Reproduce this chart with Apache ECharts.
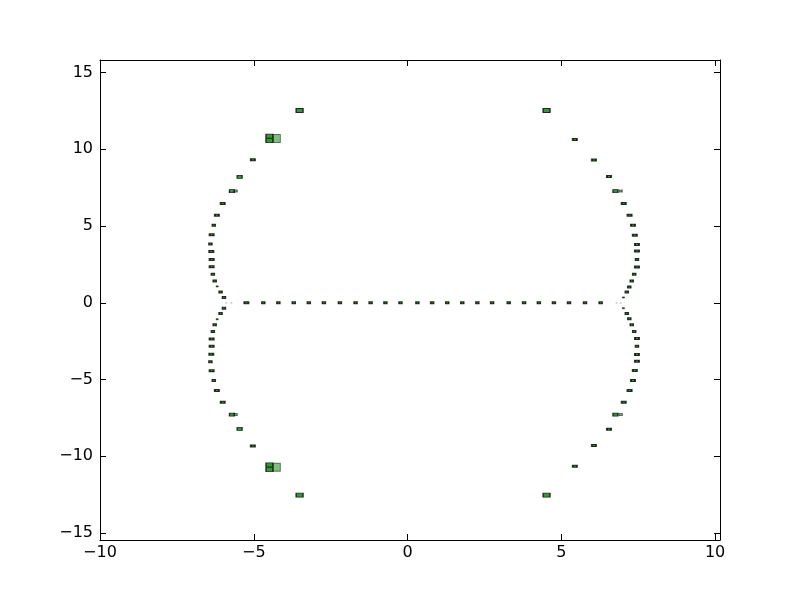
<!DOCTYPE html>
<html>
<head>
<meta charset="utf-8">
<script src="https://cdn.jsdelivr.net/npm/echarts@6/dist/echarts.min.js"></script>
<style>html,body{margin:0;padding:0;background:#fff;}#c{width:800px;height:600px;}</style>
</head>
<body>
<div id="c"></div>
<script>
// ---- data ----
const xTicks = [-10, -5, 0, 5, 10];
const yTicks = [-15, -10, -5, 0, 5, 10, 15];

// points on the real axis (y = 0)
const axisX = [-5.24,-4.69,-4.20,-3.70,-3.21,-2.72,-2.20,-1.69,-1.20,-0.72,-0.23,0.32,0.80,1.29,1.78,2.27,2.75,3.29,3.79,4.27,4.76,5.25,5.77,6.28];
const axisY = [0,0,0,0,0,0,0,0,0,0,0,0,0,0,0,0,0,0,0,0,0,0,0,0];
const axisW = [3,2,2,2,2,2,2,2,2,2,2,2,2,2,2,2,2,2,2,2,2,2,2,2];

// left branch, upper half
const leftUpX = [-3.51,-4.49,-4.49,-5.03,-5.46,-5.71,-6.01,-6.20,-6.30,-6.37,-6.41,-6.38,-6.37,-6.37,-6.33,-6.27,-6.19,-6.08,-5.97];
const leftUpY = [12.53,10.86,10.56,9.32,8.21,7.28,6.47,5.71,5.06,4.43,3.84,3.35,2.83,2.35,1.87,1.43,1.07,0.70,0.35];
const leftUpW = [5,5,5,3,4,4,3,3,2,3,2,3,3,3,2,2,1,2,2];
// left branch, lower half
const leftLoX = [-3.51,-4.49,-4.49,-5.03,-5.46,-5.71,-6.01,-6.20,-6.30,-6.37,-6.41,-6.38,-6.37,-6.37,-6.33,-6.27,-6.19,-6.08,-5.97];
const leftLoY = [-12.53,-10.86,-10.56,-9.32,-8.21,-7.28,-6.47,-5.71,-5.06,-4.43,-3.84,-3.35,-2.83,-2.35,-1.87,-1.43,-1.07,-0.70,-0.35];
const leftLoW = [5,5,5,3,4,4,3,3,2,3,2,3,3,3,2,2,1,2,2];

// right branch, upper half
const rightUpX = [4.52,5.44,6.06,6.55,6.76,7.03,7.22,7.33,7.39,7.46,7.46,7.46,7.46,7.37,7.29,7.21,7.13,7.02];
const rightUpY = [12.53,10.64,9.30,8.23,7.28,6.47,5.71,5.06,4.41,3.80,3.37,2.83,2.33,1.87,1.43,1.04,0.70,0.35];
const rightUpW = [5,3,3,3,4,3,3,3,3,3,3,2,3,2,2,2,2,1];
// right branch, lower half
const rightLoX = [4.52,5.44,6.06,6.55,6.76,7.03,7.22,7.33,7.39,7.46,7.46,7.46,7.46,7.37,7.29,7.21,7.13,7.02];
const rightLoY = [-12.53,-10.64,-9.30,-8.23,-7.28,-6.47,-5.71,-5.06,-4.41,-3.80,-3.37,-2.83,-2.33,-1.87,-1.43,-1.04,-0.70,-0.35];
const rightLoW = [5,3,3,3,4,3,3,3,3,3,3,2,3,2,2,2,2,1];

// lighter (semi-transparent) companion marks
const lightX = [-4.25,-4.25,-5.59,-5.59,6.93,6.93];
const lightY = [10.71,-10.71,7.28,-7.28,7.28,-7.28];
const lightW = [6,6,2,2,2,2];

// faint marks near the branch points
const faintX = [-5.89,-5.73,6.80,6.93];
const faintY = [0,0,0,0];

// ---- build ----
function zip3(xs, ys, ws) { return xs.map((x, i) => [x, ys[i], ws[i]]); }
const mainData = [].concat(
  zip3(axisX, axisY, axisW),
  zip3(leftUpX, leftUpY, leftUpW),
  zip3(leftLoX, leftLoY, leftLoW),
  zip3(rightUpX, rightUpY, rightUpW),
  zip3(rightLoX, rightLoY, rightLoW)
);
const lightData = zip3(lightX, lightY, lightW);
const faintData = faintX.map((x, i) => [x, faintY[i]]);

const sizeOf = {1: [2, 1], 2: [3, 2], 3: [4, 2], 4: [5, 3], 5: [7, 4], 6: [7, 8]};
const fmt = v => String(v).replace('-', '\u2212');
const font = {fontFamily: 'DejaVu Sans', fontSize: 16, color: '#000'};

function xAx(pos, labels) {
  return {
    type: 'value', position: pos, min: -10, max: 10.16,
    axisLine: {show: true, onZero: false, lineStyle: {color: '#000', width: 1}},
    axisTick: {show: true, inside: true, length: 6, lineStyle: {color: '#000'}, customValues: xTicks},
    axisLabel: Object.assign({show: labels, margin: 5, formatter: fmt, customValues: xTicks}, font),
    splitLine: {show: false}
  };
}
function yAx(pos, labels) {
  return {
    type: 'value', position: pos, min: -15.45, max: 15.82,
    axisLine: {show: true, onZero: false, lineStyle: {color: '#000', width: 1}},
    axisTick: {show: true, inside: true, length: 6, lineStyle: {color: '#000'}, customValues: yTicks},
    axisLabel: Object.assign({show: labels, margin: 7, formatter: fmt, customValues: yTicks}, font),
    splitLine: {show: false}
  };
}

const chart = echarts.init(document.getElementById('c'), null, {renderer: 'canvas'});
chart.setOption({
  animation: false,
  backgroundColor: '#fff',
  grid: {left: 100, right: 80, top: 60, bottom: 60, containLabel: false},
  xAxis: [xAx('bottom', true), xAx('top', false)],
  yAxis: [yAx('left', true), yAx('right', false)],
  series: [
    {
      type: 'scatter', xAxisIndex: 0, yAxisIndex: 0, symbol: 'rect',
      data: faintData, symbolSize: [2, 2],
      itemStyle: {color: '#c8c8c8', borderWidth: 0}
    },
    {
      type: 'scatter', xAxisIndex: 0, yAxisIndex: 0, symbol: 'rect',
      data: mainData,
      symbolSize: v => sizeOf[v[2]],
      itemStyle: {color: '#008000', borderColor: '#000', borderWidth: 1}
    },
    {
      type: 'scatter', xAxisIndex: 0, yAxisIndex: 0, symbol: 'rect',
      data: lightData,
      symbolSize: v => sizeOf[v[2]],
      itemStyle: {color: '#008000', borderColor: '#000', borderWidth: 1, opacity: 0.5}
    }
  ]
});
</script>
</body>
</html>
